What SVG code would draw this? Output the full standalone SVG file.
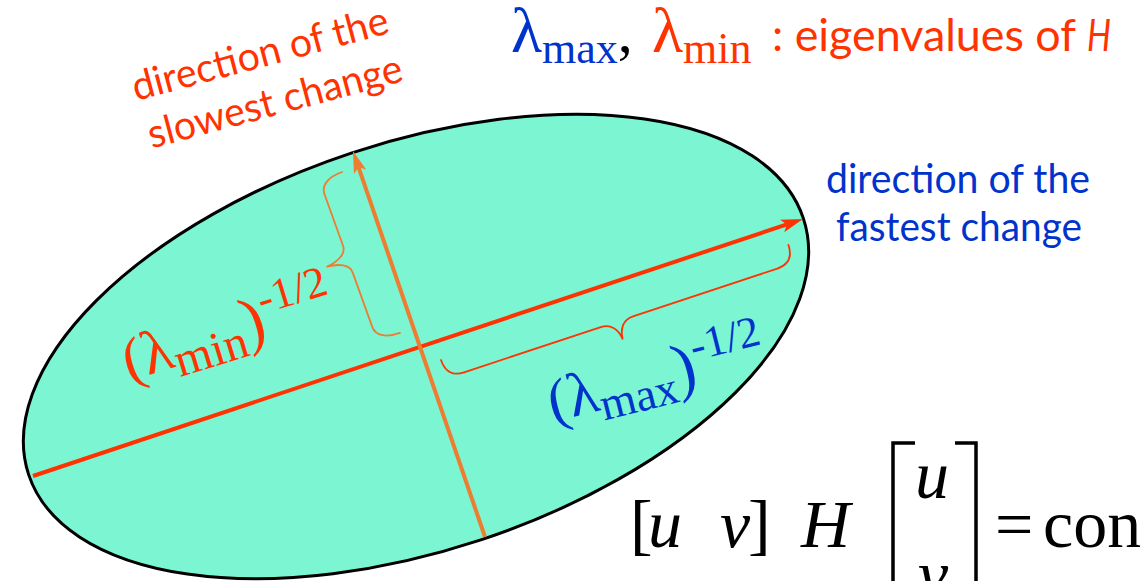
<svg xmlns="http://www.w3.org/2000/svg" width="1140" height="581" viewBox="0 0 1140 581">
<style>
.sans{font-family:Lato,"Liberation Sans",sans-serif}
.serif{font-family:"Liberation Serif","Times New Roman",serif}
.red{fill:#FF3300}
.blue{fill:#0033CC}
.brace{fill:none;stroke-width:1.8;stroke-linecap:round;stroke-linejoin:round}
</style>
<defs>
<marker id="arrR" markerUnits="userSpaceOnUse" viewBox="0 0 22 14" refX="5" refY="7" markerWidth="22" markerHeight="14" orient="auto"><path d="M0,0.5 L22,7 L0,13.5 L5,7 Z" fill="#FF3300"/></marker>
<marker id="arrO" markerUnits="userSpaceOnUse" viewBox="0 0 22 14" refX="5" refY="7" markerWidth="22" markerHeight="14" orient="auto"><path d="M0,0.5 L22,7 L0,13.5 L5,7 Z" fill="#ED7D31"/></marker>
</defs>
<rect width="1140" height="581" fill="#FFFFFF"/>

<g id="ellipse">
<ellipse cx="416" cy="346.5" rx="408" ry="204" transform="rotate(-18.3 416 346.5)" fill="#7CF5D3" stroke="#000" stroke-width="3"/>
</g>

<g id="connectors">
<line x1="33" y1="476" x2="786.9" y2="224.4" stroke="#FF3300" stroke-width="4" marker-end="url(#arrR)"/>
<line x1="485" y1="537" x2="358.5" y2="167.1" stroke="#ED7D31" stroke-width="4" marker-end="url(#arrO)"/>
</g>

<g id="braces">
<path class="brace" stroke="#FF3300" transform="translate(441,360) rotate(-18.34)" d="M0,0 C0,12 6,19 18,19 L162,19 C172,19 178,26 179,37 C180,26 186,19 196,19 L348,19 C360,19 366,12 366,0"/>
<path class="brace" stroke="#ED7D31" transform="translate(342,172) rotate(70.2)" d="M0,0 C0,14 5,24 15,24 L70,24 C78,24 83,34 84,46 C85,34 90,24 98,24 L156,24 C166,24 171,14 171,0"/>
</g>

<g id="title">
<text class="serif" y="52"><tspan x="511" class="blue" font-size="64">λ</tspan><tspan class="blue" font-size="44" dy="11">max</tspan><tspan fill="#000" font-size="60" dy="-11">,</tspan></text>
<text class="serif red" y="52"><tspan x="652" font-size="64">λ</tspan><tspan font-size="44" dy="11">min</tspan></text>
<text class="sans red" x="772" y="51" font-size="44" textLength="304" lengthAdjust="spacingAndGlyphs">: eigenvalues of</text>
<text class="sans red" x="1087" y="51" font-size="44" font-style="italic" textLength="24" lengthAdjust="spacingAndGlyphs">H</text>
</g>

<g id="label-slowest" class="sans red" font-size="40" transform="translate(136,101) rotate(-15)">
<text x="0" y="0" textLength="264" lengthAdjust="spacingAndGlyphs">direction of the</text>
<text x="3" y="50" textLength="262" lengthAdjust="spacingAndGlyphs">slowest change</text>
</g>

<g id="label-fastest" class="sans blue" font-size="40">
<text x="826" y="193" textLength="264" lengthAdjust="spacingAndGlyphs">direction of the</text>
<text x="836" y="241" textLength="246" lengthAdjust="spacingAndGlyphs">fastest change</text>
</g>

<g id="label-lmin" class="serif red" transform="translate(129,381) rotate(-17)">
<text x="0" y="0"><tspan font-size="60">(</tspan><tspan font-size="62">λ</tspan><tspan font-size="48" dy="11">min</tspan><tspan font-size="66" dy="-11">)</tspan><tspan font-size="44" dy="-25">-1/2</tspan></text>
</g>

<g id="label-lmax" class="serif blue" transform="translate(553,422) rotate(-14)">
<text x="0" y="0"><tspan font-size="60">(</tspan><tspan font-size="62">λ</tspan><tspan font-size="46" dy="11">max</tspan><tspan font-size="66" dy="-11">)</tspan><tspan font-size="44" dy="-25">-1/2</tspan></text>
</g>

<g id="equation" class="serif" font-size="68" fill="#000">
<text y="547"><tspan x="630">[</tspan><tspan x="648" font-style="italic">u</tspan><tspan x="720" font-style="italic">v</tspan><tspan x="748">]</tspan><tspan x="801" font-style="italic">H</tspan></text>
<path d="M915,443 H893 V581 M955,443 H976 V581" fill="none" stroke="#000" stroke-width="3.5"/>
<text x="915" y="498" font-style="italic">u</text>
<text x="918" y="597" font-style="italic">v</text>
<text x="995" y="547">=</text>
<text x="1043" y="547">con</text>
</g>
</svg>
